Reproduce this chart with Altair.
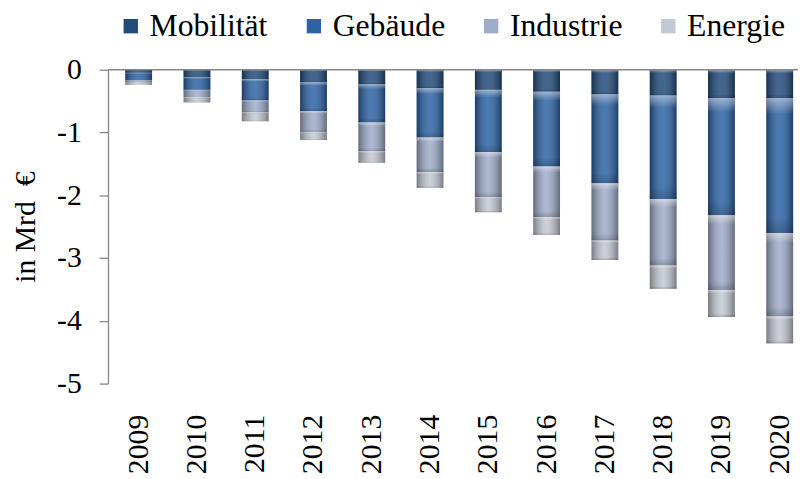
import altair as alt
import pandas as pd

years = ["2009", "2010", "2011", "2012", "2013", "2014", "2015", "2016", "2017", "2018", "2019", "2020"]
categories = ["Mobilität", "Gebäude", "Industrie", "Energie"]
mobilitaet = [-0.05, -0.12, -0.15, -0.20, -0.23, -0.29, -0.32, -0.35, -0.39, -0.41, -0.45, -0.45]
gebaeude = [-0.12, -0.20, -0.34, -0.46, -0.61, -0.79, -0.99, -1.19, -1.42, -1.65, -1.87, -2.15]
industrie = [-0.03, -0.12, -0.19, -0.33, -0.46, -0.55, -0.72, -0.81, -0.91, -1.06, -1.19, -1.33]
energie = [-0.04, -0.08, -0.14, -0.13, -0.18, -0.25, -0.24, -0.28, -0.31, -0.37, -0.43, -0.43]
colors = ["#224b7c", "#2c63a6", "#9eacca", "#c3c8d2"]
y_ticks = [-5, -4, -3, -2, -1, 0]

series = [mobilitaet, gebaeude, industrie, energie]
rows = []
for i, yr in enumerate(years):
    for k, cat in enumerate(categories):
        rows.append({"year": yr, "category": cat, "order": k, "value": series[k][i]})
df = pd.DataFrame(rows)

FONT = "Liberation Serif"

xenc = alt.X(
    "year:N", sort=years,
    scale=alt.Scale(paddingInner=0.54, paddingOuter=0.19, align=0.78, round=False),
    axis=alt.Axis(title=None, labelAngle=270, labelAlign="right", labelBaseline="middle",
                  labelFont=FONT, labelFontSize=30, labelColor="black", labelPadding=31,
                  domain=False, ticks=False, tickSize=0),
)
yscale = alt.Scale(domain=[-5, 0], nice=False, zero=False)
yaxis = alt.Axis(
    title="in Mrd\u00a0\u00a0€", values=y_ticks, labelExpr="'' + datum.value", grid=False,
    domainColor="#868686", tickColor="#868686", tickSize=9, domainWidth=1.3, tickWidth=1.3,
    labelFont=FONT, labelFontSize=30, labelColor="black", labelPadding=18,
    titleFont=FONT, titleFontSize=30, titleFontWeight="normal", titleColor="black", titlePadding=16,
)

base = alt.Chart(df).transform_stack(
    stack="value", groupby=["year"], as_=["y0", "y1"],
    sort=[alt.SortField("order", order="ascending")],
)

bars = base.mark_bar().encode(
    x=xenc,
    y=alt.Y("y0:Q", scale=yscale, axis=yaxis),
    y2="y1:Q",
    color=alt.Color(
        "category:N", sort=categories,
        scale=alt.Scale(domain=categories, range=colors),
        legend=alt.Legend(orient="none", legendX=7, legendY=-60, direction="horizontal", title=None,
                          symbolType="square", symbolSize=210, symbolStrokeWidth=0,
                          labelFont=FONT, labelFontSize=32, labelColor="black", labelOffset=3,
                          columnPadding=30),
    ),
)

side_grad = {
    "gradient": "linear", "x1": 0, "y1": 0, "x2": 1, "y2": 0,
    "stops": [
        {"offset": 0, "color": "rgba(0,0,0,0.38)"},
        {"offset": 0.5, "color": "rgba(255,255,255,0.15)"},
        {"offset": 1, "color": "rgba(0,0,0,0.38)"},
    ],
}
top_grad = {
    "gradient": "linear", "x1": 0, "y1": 0, "x2": 0, "y2": 1,
    "stops": [
        {"offset": 0, "color": "rgba(255,255,255,0.45)"},
        {"offset": 0.12, "color": "rgba(255,255,255,0)"},
        {"offset": 0.88, "color": "rgba(0,0,0,0)"},
        {"offset": 1, "color": "rgba(0,0,0,0.18)"},
    ],
}
shade = base.mark_bar(color=side_grad).encode(x=xenc, y="y0:Q", y2="y1:Q")
shine = base.mark_bar(color=top_grad).encode(x=xenc, y="y0:Q", y2="y1:Q")

zero = alt.Chart(pd.DataFrame({"a": [0]})).mark_rule(color="#868686", strokeWidth=1.5).encode(
    y=alt.datum(0)
)

chart = alt.layer(bars, shade, shine, zero).properties(
    width=697, height=317,
    padding={"left": 101, "top": 60, "right": 0, "bottom": 93},
    autosize=alt.AutoSizeParams(type="none"),
    background="white",
).configure_view(stroke=None)

chart.save("out.html", embed_options={"renderer": "svg", "actions": False})
